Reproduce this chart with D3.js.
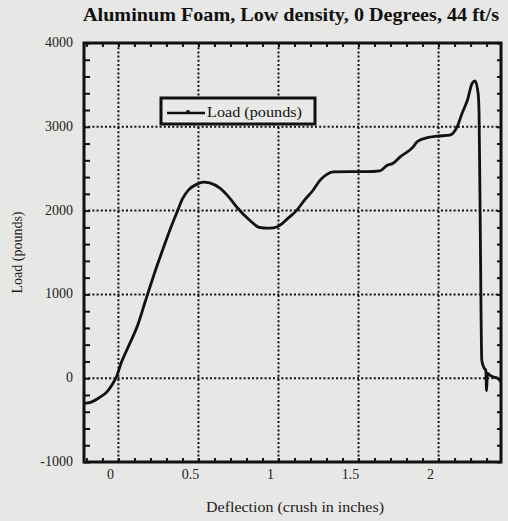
<!DOCTYPE html>
<html>
<head>
<meta charset="utf-8">
<script src="https://cdn.jsdelivr.net/npm/d3@7"></script>
<style>
  body { margin: 0; background: #e7e7e5; }
  svg { display: block; font-family: "Liberation Serif", "DejaVu Serif", serif; }
</style>
</head>
<body>
<div id="chart"></div>
<script>
// deflection (in) and load (lb)
var deflection = [-0.215, -0.17, -0.116, -0.07, -0.034, -0.016, 0.02, 0.072, 0.122, 0.17,
                  0.23, 0.28, 0.33, 0.37, 0.40, 0.44, 0.49, 0.53, 0.57,
                  0.634, 0.69, 0.74, 0.82, 0.88, 0.93, 0.97, 1.01, 1.06, 1.115,
                  1.16, 1.216, 1.26, 1.30, 1.34, 1.45, 1.55, 1.634, 1.68, 1.716,
                  1.76, 1.84, 1.865, 1.93, 1.99, 2.07, 2.115, 2.147, 2.18, 2.21,
                  2.228, 2.247, 2.253, 2.26, 2.27, 2.285, 2.295, 2.30, 2.305, 2.32,
                  2.35, 2.37, 2.39];
var load = [-300, -285, -227, -160, -60, 0, 195, 418, 640, 930,
            1280, 1550, 1810, 2000, 2140, 2250, 2315, 2340, 2330,
            2267, 2160, 2040, 1885, 1800, 1790, 1795, 1826, 1910, 2005,
            2120, 2243, 2363, 2430, 2462, 2465, 2465, 2475, 2542, 2565,
            2641, 2757, 2820, 2870, 2888, 2900, 2995, 3162, 3317, 3520,
            3548, 3400, 3162, 1885, 215, 120, 95, -150, 60, 36,
            10, 0, -48];

var xTicks = [0, 0.5, 1, 1.5, 2];
var xTickLabels = ["0", "0.5", "1", "1.5", "2"];
var yTicks = [-1000, 0, 1000, 2000, 3000, 4000];

var title = "Aluminum Foam, Low density, 0 Degrees, 44 ft/s";
var xTitle = "Deflection (crush in inches)";
var yTitle = "Load (pounds)";
var seriesName = "Load (pounds)";

var W = 508, H = 521;
//plot box edges (window.top is taken, so prefix them)
var pL = 84, pR = 501, pT = 43, pB = 462;

var svg = d3.select("#chart").append("svg")
            .attr("width", W)
            .attr("height", H);

var x = d3.scaleLinear().domain([-0.215, 2.39]).range([pL, pR]);
var y = d3.scaleLinear().domain([-1000, 4000]).range([pB, pT]);

//dotted grid
var grid = svg.append("g").attr("stroke", "#111").attr("stroke-width", 2)
              .attr("stroke-dasharray", "2,2.2");
grid.selectAll(".vg").data(xTicks).enter().append("line")
    .attr("x1", function(d){ return x(d); })
    .attr("x2", function(d){ return x(d); })
    .attr("y1", pT).attr("y2", pB);
grid.selectAll(".hg").data(yTicks.slice(1, -1)).enter().append("line")
    .attr("y1", function(d){ return y(d); })
    .attr("y2", function(d){ return y(d); })
    .attr("x1", pL).attr("x2", pR);

//minor inward ticks on all four sides
var yMinor = d3.range(-1000, 4001, 200);
var xMinor = d3.range(-2, 24).map(function(i){ return i / 10; });
svg.append("g").attr("transform", "translate(" + pL + ",0)")
   .call(d3.axisRight(y).tickValues(yMinor).tickSize(6).tickFormat(""));
svg.append("g").attr("transform", "translate(" + pR + ",0)")
   .call(d3.axisLeft(y).tickValues(yMinor).tickSize(4).tickFormat(""));
svg.append("g").attr("transform", "translate(0," + pB + ")")
   .call(d3.axisTop(x).tickValues(xMinor).tickSize(4).tickFormat(""));
svg.append("g").attr("transform", "translate(0," + pT + ")")
   .call(d3.axisBottom(x).tickValues(xMinor).tickSize(4).tickFormat(""));
svg.selectAll(".domain").remove();
svg.selectAll(".tick line").attr("stroke", "#111").attr("stroke-width", 2);

//tick labels
svg.append("g").selectAll("text").data(yTicks).enter().append("text")
   .attr("x", 73)
   .attr("y", function(d){ return y(d) + 4; })
   .attr("text-anchor", "end")
   .attr("font-size", 14)
   .attr("fill", "#222")
   .text(function(d){ return d < 0 ? "-" + Math.abs(d) : d; });
svg.append("g").selectAll("text").data(xTicks).enter().append("text")
   .attr("x", function(d){ return x(d) - 8; })
   .attr("y", 479)
   .attr("text-anchor", "middle")
   .attr("font-size", 14)
   .attr("fill", "#222")
   .text(function(d, i){ return xTickLabels[i]; });

//the load curve
var line = d3.line()
             .x(function(d, i){ return x(deflection[i]); })
             .y(function(d){ return y(d); })
             .curve(d3.curveMonotoneX);
svg.append("path")
   .datum(load)
   .attr("fill", "none")
   .attr("stroke", "#111")
   .attr("stroke-width", 2.8)
   .attr("stroke-linejoin", "round")
   .attr("d", line);

//frame
svg.append("rect")
   .attr("x", pL).attr("y", pT)
   .attr("width", pR - pL).attr("height", pB - pT)
   .attr("fill", "none").attr("stroke", "#111").attr("stroke-width", 3);

//legend
var lg = svg.append("g").attr("transform", "translate(161,98)");
lg.append("rect").attr("width", 154).attr("height", 26)
  .attr("fill", "#e9e9e7").attr("stroke", "#111").attr("stroke-width", 3);
lg.append("line").attr("x1", 6).attr("x2", 44).attr("y1", 15).attr("y2", 15)
  .attr("stroke", "#111").attr("stroke-width", 2.5);
lg.append("circle").attr("cx", 27).attr("cy", 14).attr("r", 2).attr("fill", "#111");
lg.append("text").attr("x", 46).attr("y", 19).attr("font-size", 15)
  .attr("textLength", 95).attr("lengthAdjust", "spacingAndGlyphs")
  .attr("fill", "#111").text(seriesName);

//titles
svg.append("text").attr("x", 291).attr("y", 21)
   .attr("text-anchor", "middle").attr("font-size", 19).attr("font-weight", "bold")
   .attr("textLength", 416).attr("lengthAdjust", "spacingAndGlyphs")
   .attr("fill", "#111").text(title);
svg.append("text").attr("x", 295).attr("y", 512)
   .attr("text-anchor", "middle").attr("font-size", 14)
   .attr("textLength", 178).attr("lengthAdjust", "spacingAndGlyphs")
   .attr("fill", "#222").text(xTitle);
svg.append("text")
   .attr("transform", "translate(22," + (pT + pB) / 2 + ") rotate(-90)")
   .attr("text-anchor", "middle").attr("font-size", 14)
   .attr("fill", "#222").text(yTitle);
</script>
</body>
</html>
